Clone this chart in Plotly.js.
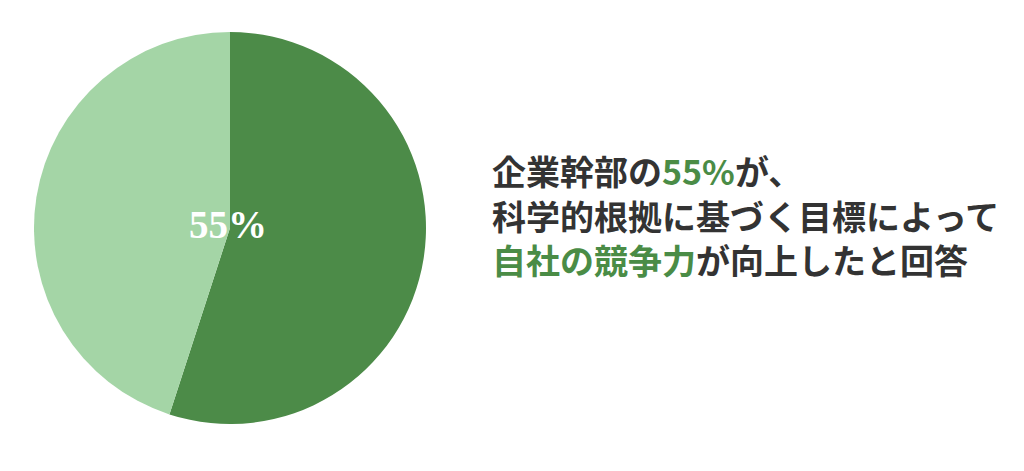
<!DOCTYPE html>
<html>
<head>
<meta charset="utf-8">
<script src="https://cdn.plot.ly/plotly-3.0.1.min.js"></script>
<style>html,body{margin:0;padding:0;background:#fff;}#chart{width:1024px;height:471px;}</style>
</head>
<body>
<div id="chart"></div>
<script>
const labels = ["向上したと回答", "その他"];
const values = [55, 45];
const colors = ["#4c8b48", "#a4d5a6"];
const headlineLines = [
  ["企業幹部の", "55%", "が、"],
  ["科学的根拠に基づく目標によって", "", ""],
  ["", "自社の競争力", "が向上したと回答"]
];

const W = 1024, H = 471;
const GREEN = "#4a8c46", DARK = "#333333";

const trace = {
  type: "pie",
  labels: labels,
  values: values,
  sort: false,
  direction: "clockwise",
  rotation: 0,
  marker: {colors: colors, line: {width: 0}},
  textinfo: "none",
  hoverinfo: "label+percent",
  domain: {x: [34 / W, 426 / W], y: [1 - 424 / H, 1 - 32 / H]}
};

const lineY = [171, 215, 259];
const annotations = headlineLines.map((parts, i) => ({
  xref: "paper", yref: "paper",
  x: 490 / W, y: 1 - lineY[i] / H,
  xanchor: "left", yanchor: "middle",
  showarrow: false,
  text: (parts[0] ? `<span style="color:${DARK}">${parts[0]}</span>` : "") +
        (parts[1] ? `<span style="color:${GREEN}">${parts[1]}</span>` : "") +
        (parts[2] ? `<span style="color:${DARK}">${parts[2]}</span>` : ""),
  font: {family: "'Noto Sans CJK JP', 'Noto Sans', sans-serif", size: 34, color: DARK, weight: 700}
}));

annotations.push({
  xref: "paper", yref: "paper",
  x: 228 / W, y: 1 - 224 / H,
  xanchor: "center", yanchor: "middle",
  showarrow: false,
  text: values[0] + "%",
  font: {family: "'Liberation Serif', 'Times New Roman', serif", size: 39, color: "#ffffff", weight: 700}
});

const layout = {
  width: W, height: H,
  margin: {l: 0, r: 0, t: 0, b: 0},
  paper_bgcolor: "#ffffff",
  showlegend: false,
  annotations: annotations
};

Plotly.newPlot("chart", [trace], layout, {displayModeBar: false, staticPlot: true});
</script>
</body>
</html>
